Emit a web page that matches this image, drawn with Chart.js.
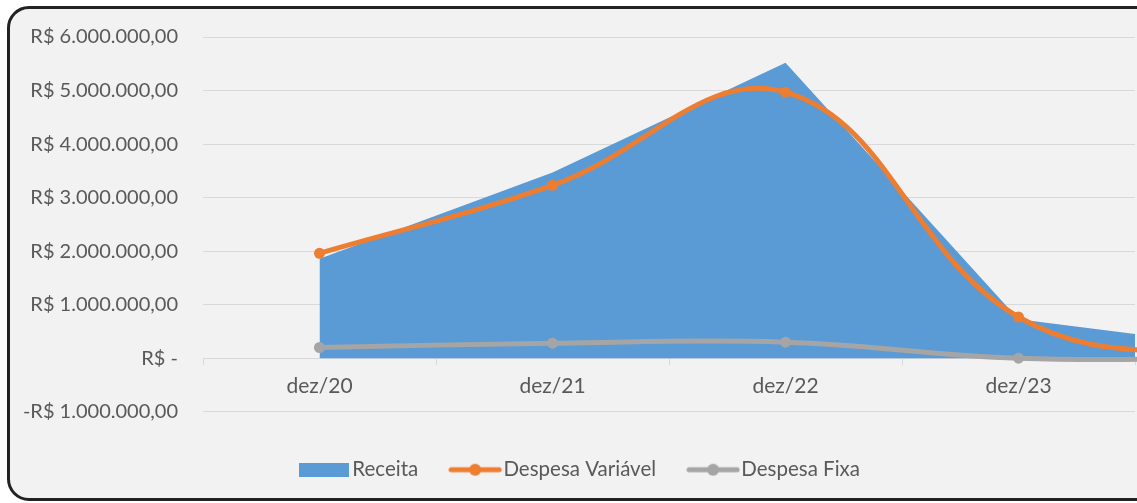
<!DOCTYPE html>
<html>
<head>
<meta charset="utf-8">
<script src="https://cdn.jsdelivr.net/npm/chart.js@4.4.1/dist/chart.umd.min.js"></script>
<style>
  html, body { margin: 0; padding: 0; background: #ffffff; overflow: hidden; }
  .frame {
    position: absolute; left: 7px; top: 6px;
    width: 1152px; height: 495px;
    box-sizing: border-box;
    border: 3px solid #222222; border-radius: 22px;
    background: #f2f2f2; overflow: hidden;
  }
  .box { position: relative; width: 1146px; height: 489px; }
</style>
</head>
<body>
<div class="frame"><div class="box"><canvas id="myChart"></canvas></div></div>
<script>
const categories = ['dez/20', 'dez/21', 'dez/22', 'dez/23', 'dez/24'];
const receita = [1860000, 3470000, 5520000, 730000, 170000];
const despesaVariavel = [1960000, 3230000, 4970000, 770000, -50000];
const despesaFixa = [200000, 280000, 300000, 0, 0];
const seriesNames = ['Receita', 'Despesa Variável', 'Despesa Fixa'];
const yTicks = [-1000000, 0, 1000000, 2000000, 3000000, 4000000, 5000000, 6000000];

const blue = '#5b9bd5';
const orange = '#ed7d31';
const gray = '#a5a5a5';
const textColor = '#595959';
const font = 'Lato';

function brl(v) {
    if (v === 0) return 'R$ -';
    const abs = Math.abs(v);
    const intPart = Math.floor(abs).toString().replace(/\B(?=(\d{3})+(?!\d))/g, '.');
    return (v < 0 ? '-R$ ' : 'R$ ') + intPart + ',00';
}

// little legend pictures, Excel style
function boxIcon(color) {
    const c = document.createElement('canvas');
    c.width = 50; c.height = 14;
    const g = c.getContext('2d');
    g.fillStyle = color;
    g.fillRect(0, 0, 50, 14);
    return c;
}
function lineIcon(color) {
    const c = document.createElement('canvas');
    c.width = 54; c.height = 14;
    const g = c.getContext('2d');
    g.strokeStyle = color;
    g.lineWidth = 5;
    g.lineCap = 'round';
    g.beginPath();
    g.moveTo(3, 7); g.lineTo(51, 7);
    g.stroke();
    g.fillStyle = color;
    g.beginPath();
    g.arc(27, 7, 6, 0, Math.PI * 2);
    g.fill();
    return c;
}
const icons = [boxIcon(blue), lineIcon(orange), lineIcon(gray)];

// the y labels are wider than the scale box, don't let them get clipped
const labelRoom = {
    id: 'labelRoom',
    afterLayout(chart) {
        chart.scales.y.left = 0;
    }
};

const ctx = document.getElementById('myChart');

const config = {
    type: 'line',
    data: {
        labels: categories,
        datasets: [
            {
                label: seriesNames[0],
                data: receita,
                fill: 'origin',
                backgroundColor: blue,
                borderColor: blue,
                borderWidth: 0,
                pointRadius: 0,
                tension: 0,
            },
            {
                label: seriesNames[1],
                data: despesaVariavel,
                borderColor: orange,
                backgroundColor: orange,
                borderWidth: 5,
                pointRadius: 5.5,
                pointBorderWidth: 0,
                tension: 0.4,
                fill: false,
            },
            {
                label: seriesNames[2],
                data: despesaFixa,
                borderColor: gray,
                backgroundColor: gray,
                borderWidth: 5,
                pointRadius: 5.5,
                pointBorderWidth: 0,
                tension: 0.4,
                fill: false,
            }
        ]
    },
    options: {
        responsive: true,
        maintainAspectRatio: false,
        animation: false,
        layout: {
            padding: { top: 28, left: 21, right: 21, bottom: 8 }
        },
        scales: {
            x: {
                type: 'category',
                offset: true,
                position: { y: 0 },
                // only four categories fit, dez/24 runs off the right edge
                afterDataLimits: (scale) => { scale.max = 3; },
                afterFit: (scale) => { scale.height = 0; },
                grid: {
                    offset: true,
                    drawOnChartArea: false,
                    tickLength: 6,
                    color: '#d9d9d9',
                },
                border: { color: '#d9d9d9' },
                ticks: {
                    color: textColor,
                    padding: 9,
                    font: { family: font, size: 21 },
                }
            },
            y: {
                min: -1000000,
                max: 6000000,
                afterFit: (scale) => { scale.width = 172; },
                afterBuildTicks: (scale) => {
                    scale.ticks = yTicks.map(v => ({ value: v }));
                },
                grid: {
                    color: '#d9d9d9',
                    drawTicks: true,
                    tickLength: 9,
                    tickColor: 'rgba(0,0,0,0)',
                },
                border: { display: false },
                ticks: {
                    color: textColor,
                    padding: 16,
                    font: { family: font, size: 20 },
                    callback: (v) => brl(v),
                }
            }
        },
        plugins: {
            filler: { drawTime: 'beforeDatasetsDraw' },
            tooltip: { enabled: false },
            legend: {
                position: 'bottom',
                title: {
                    display: true,
                    text: '',
                    padding: 0,
                    font: { size: 7, lineHeight: 1.25 },
                },
                labels: {
                    usePointStyle: true,
                    pointStyleWidth: 36,
                    padding: 39,
                    color: textColor,
                    font: { family: font, size: 20.5 },
                    generateLabels: function(chart) {
                        const items = Chart.defaults.plugins.legend.labels.generateLabels(chart);
                        items.forEach((item, i) => { item.pointStyle = icons[i]; });
                        return items;
                    }
                }
            }
        }
    },
    plugins: [labelRoom]
};

const myChart = new Chart(ctx, config);
</script>
</body>
</html>
